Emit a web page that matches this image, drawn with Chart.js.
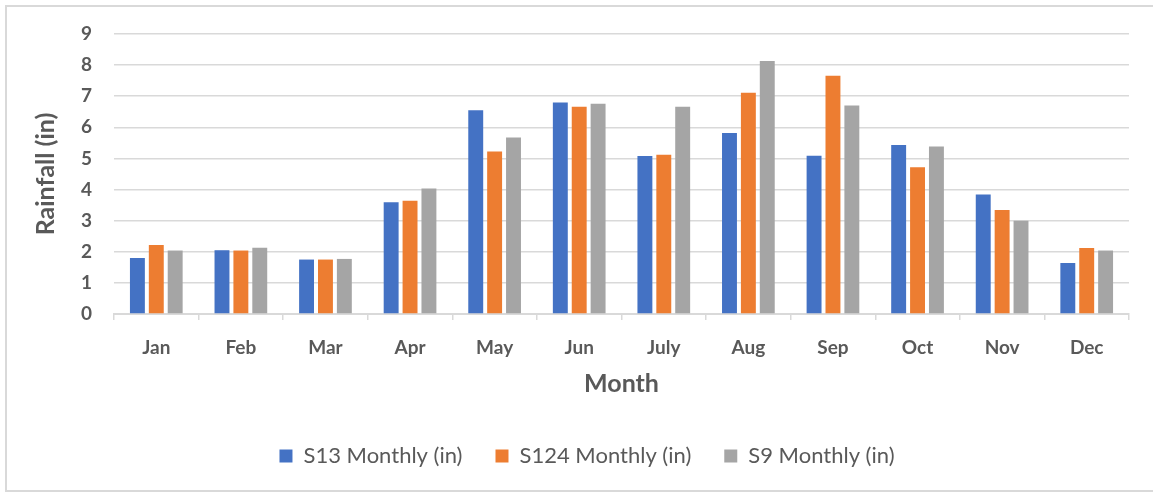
<!DOCTYPE html>
<html>
<head>
<meta charset="utf-8">
<script src="https://cdn.jsdelivr.net/npm/chart.js@4"></script>
<style>
  html, body { margin: 0; padding: 0; background: #fff; }
  #frame {
    position: absolute; left: 5px; top: 5px;
    width: 1152px; height: 487px;
    border: 2px solid #d9d9d9; box-sizing: border-box;
  }
  #wrap { position: absolute; left: 0; top: 0; width: 1153px; height: 495px; }
</style>
</head>
<body>
<div id="frame"></div>
<div id="wrap"><canvas id="rainChart" width="1153" height="495"></canvas></div>
<script>
// monthly rainfall
const months = ['Jan', 'Feb', 'Mar', 'Apr', 'May', 'Jun', 'July', 'Aug', 'Sep', 'Oct', 'Nov', 'Dec'];
const s13 = [1.80, 2.05, 1.75, 3.59, 6.55, 6.80, 5.08, 5.82, 5.09, 5.43, 3.84, 1.64];
const s124 = [2.22, 2.04, 1.75, 3.64, 5.22, 6.66, 5.12, 7.11, 7.66, 4.72, 3.34, 2.12];
const s9 = [2.04, 2.13, 1.77, 4.03, 5.67, 6.76, 6.66, 8.13, 6.70, 5.38, 3.00, 2.04];
const yTicks = [0, 1, 2, 3, 4, 5, 6, 7, 8, 9];

const textColor = '#595959';
const gridColor = '#d9d9d9';
const fontName = 'Lato, "Open Sans", sans-serif';

function makeSet(label, values, color) {
    return {
        label: label,
        data: values,
        backgroundColor: color,
        borderWidth: 0,
        categoryPercentage: 0.67,
        barPercentage: 0.79
    };
}

// nudge the legend a bit to the right, like the original
const legendShift = {
    id: 'legendShift',
    afterLayout(chart) {
        chart.legend.left += 7;
        chart.legend.right += 7;
    }
};

const ctx = document.getElementById('rainChart').getContext('2d');
new Chart(ctx, {
    type: 'bar',
    data: {
        labels: months,
        datasets: [
            makeSet('S13 Monthly (in)', s13, '#4472C4'),
            makeSet('S124 Monthly (in)', s124, '#ED7D31'),
            makeSet('S9 Monthly (in)', s9, '#A5A5A5')
        ]
    },
    plugins: [legendShift],
    options: {
        responsive: false,
        animation: false,
        layout: { padding: { left: 31, right: 24, top: 34, bottom: 18 } },
        plugins: {
            tooltip: { enabled: false },
            legend: {
                position: 'bottom',
                labels: {
                    color: textColor,
                    font: { family: fontName, size: 22 },
                    boxWidth: 13,
                    boxHeight: 13,
                    padding: 33
                }
            }
        },
        scales: {
            x: {
                afterFit: (s) => { s.height = 98; },
                grid: {
                    drawOnChartArea: false,
                    drawTicks: true,
                    tickLength: 6,
                    color: gridColor,
                    lineWidth: 1.5,
                    offset: true
                },
                border: { display: true, color: gridColor, width: 2 },
                ticks: {
                    color: textColor,
                    font: { family: fontName, size: 19, weight: 'bold' },
                    padding: 16
                },
                title: {
                    display: true,
                    text: 'Month',
                    color: textColor,
                    font: { family: fontName, size: 25, weight: 'bold' },
                    padding: { top: 0, bottom: 13 }
                }
            },
            y: {
                min: 0,
                max: 9,
                afterFit: (s) => { s.width = 83; },
                afterBuildTicks: (s) => { s.ticks = yTicks.map(v => ({ value: v })); },
                grid: { color: gridColor, lineWidth: 1.5, drawTicks: false },
                border: { display: false },
                ticks: {
                    color: textColor,
                    font: { family: fontName, size: 19, weight: 'bold' },
                    padding: 22
                },
                title: {
                    display: true,
                    text: 'Rainfall (in)',
                    color: textColor,
                    font: { family: fontName, size: 25, weight: 'bold' },
                    padding: 0
                }
            }
        }
    }
});
</script>
</body>
</html>
